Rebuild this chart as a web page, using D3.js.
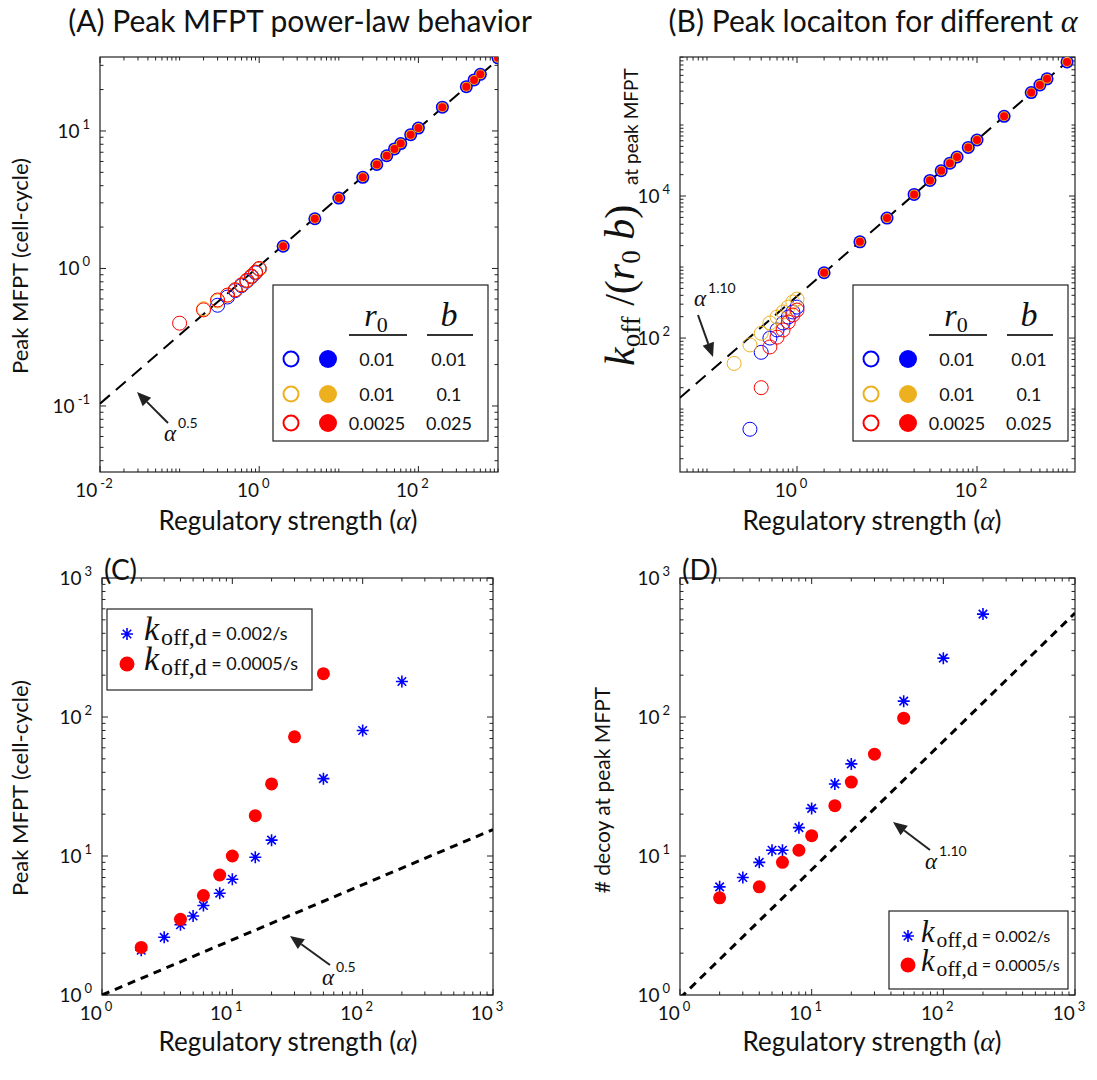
<!DOCTYPE html>
<html><head><meta charset="utf-8">
<script src="https://cdn.jsdelivr.net/npm/d3@7"></script>
<style>
body{margin:0;background:#fff;}
text{font-family:Lato,"Liberation Sans",sans-serif;fill:#111;}
</style></head>
<body><svg id="fig" width="1097" height="1080"></svg>
<script>
// ---- data ----
// panel A / B : filled markers (alpha >= 1), the three parameter sets overlap
const alphaHigh = [2,5,10,20,30,40,50,60,80,100,200,400,500,600,1000];
const mfptHigh = [1.45,2.3,3.25,4.6,5.7,6.6,7.4,8.1,9.4,10.5,14.9,21,23.5,25.8,34];
const koffHigh = [831,2263,4885,10540,16560,22750,29050,35450,48400,61500,132700,286300,365600,446300,774000];
// open markers (alpha <= 1)
const alphaLowRed = [0.1,0.2,0.3,0.4,0.5,0.6,0.7,0.8,0.9,1.0];
const mfptLowRed = [0.40,0.50,0.59,0.64,0.70,0.76,0.82,0.88,0.94,1.0];
const alphaLowBlue = [0.3,0.4,0.5,0.6,0.7,0.8,0.9,1.0];
const mfptLowBlue = [0.54,0.62,0.69,0.75,0.81,0.87,0.93,0.99];
const alphaLowOrange = [0.2,0.3,0.4,0.5,0.6,0.7,0.8,0.9,1.0];
const mfptLowOrange = [0.51,0.58,0.64,0.70,0.76,0.82,0.88,0.94,0.99];
const koffAlphaOrange = [0.2,0.3,0.4,0.5,0.6,0.7,0.8,0.9,1.0];
const koffLowOrange = [44,80,117,163,198,233,273,322,354];
const koffAlphaBlue = [0.3,0.4,0.5,0.6,0.7,0.8,0.9,1.0];
const koffLowBlue = [5.2,63,100,130,163,198,233,273];
const koffAlphaRed = [0.4,0.5,0.6,0.7,0.8,0.9,1.0];
const koffLowRed = [20,75,103,130,168,211,248];
// guide lines
const guideA = [[0.01,0.104],[1000,33]];
const guideB = [[0.05,14.4],[1000,774000]];
// panel C / D
const alphaCBlue = [2,3,4,5,6,8,10,15,20,50,100,200];
const mfptCBlue = [2.1,2.6,3.2,3.7,4.4,5.4,6.8,9.8,13,36,80,180];
const alphaCRed = [2,4,6,8,10,15,20,30,50];
const mfptCRed = [2.2,3.5,5.2,7.3,10,19.5,33,72,205];
const decoyDBlue = [6,7,9,11,11,16,22,33,46,130,265,550];
const decoyDRed = [5,6,9,11,14,23,34,54,98];
const guideC = [[1,1],[1000,15.5]];
const guideD = [[1,0.95],[1000,560]];

const blue = "#0000ff", orange = "#edb120", red = "#ff0000";
const svg = d3.select("#fig");
const serif = "Liberation Serif";

function supLabel(sel, base, exp) {
  sel.append("tspan").text(base);
  sel.append("tspan").attr("font-size", 13).attr("dy", -9).attr("dx", 3).text(exp);
}

function makePanel(o) {
  const x = d3.scaleLog().domain(o.xd).range([o.l, o.r]);
  const y = d3.scaleLog().domain(o.yd).range([o.b, o.t]);
  const g = svg.append("g");
  const id = "clip" + o.name;
  svg.append("clipPath").attr("id", id).append("rect")
    .attr("x", o.l).attr("y", o.t).attr("width", o.r - o.l).attr("height", o.b - o.t);
  // log ticks: labelled majors every `step` decades, minors at 2..9 and skipped decades
  const ticks = (dom, step) => {
    const lo = Math.floor(Math.log10(dom[0])), hi = Math.ceil(Math.log10(dom[1]));
    const maj = [], min = [];
    for (let e = lo; e <= hi; e++) {
      const v = Math.pow(10, e);
      if (v >= dom[0] * 0.999 && v <= dom[1] * 1.001) ((e % step === 0) ? maj : min).push(v);
      for (let k = 2; k < 10; k++) {
        const w = k * v;
        if (w >= dom[0] && w <= dom[1]) min.push(w);
      }
    }
    return {maj, min};
  };
  const tx = ticks(o.xd, o.xstep), ty = ticks(o.yd, o.ystep);
  const tk = g.append("g").attr("stroke", "#222").attr("stroke-width", 1);
  [[tx.maj, 6], [tx.min, 3.5]].forEach(([arr, len]) => arr.forEach(v => {
    tk.append("line").attr("x1", x(v)).attr("x2", x(v)).attr("y1", o.b).attr("y2", o.b - len);
    tk.append("line").attr("x1", x(v)).attr("x2", x(v)).attr("y1", o.t).attr("y2", o.t + len);
  }));
  [[ty.maj, 6], [ty.min, 3.5]].forEach(([arr, len]) => arr.forEach(v => {
    tk.append("line").attr("y1", y(v)).attr("y2", y(v)).attr("x1", o.l).attr("x2", o.l + len);
    tk.append("line").attr("y1", y(v)).attr("y2", y(v)).attr("x1", o.r).attr("x2", o.r - len);
  }));
  tx.maj.forEach(v => {
    const t = g.append("text").attr("x", x(v) - 6).attr("y", o.b + 25).attr("font-size", 19)
      .attr("text-anchor", "middle");
    supLabel(t, "10", Math.round(Math.log10(v)));
  });
  ty.maj.forEach(v => {
    const t = g.append("text").attr("x", o.l - 10).attr("y", y(v) + 7).attr("font-size", 19)
      .attr("text-anchor", "end");
    supLabel(t, "10", Math.round(Math.log10(v)));
  });
  g.append("rect").attr("x", o.l).attr("y", o.t).attr("width", o.r - o.l).attr("height", o.b - o.t)
    .attr("fill", "none").attr("stroke", "#222").attr("stroke-width", 1.2);
  const plot = svg.append("g").attr("clip-path", `url(#${id})`);
  return {x, y, g, plot, o};
}

function guide(p, pts, dash, w) {
  p.plot.append("path").datum(pts)
    .attr("d", d3.line().x(d => p.x(d[0])).y(d => p.y(d[1])))
    .attr("fill", "none").attr("stroke", "#000").attr("stroke-width", w).attr("stroke-dasharray", dash);
}
function circles(p, xs, ys, col, r, filled, sw) {
  p.plot.append("g").selectAll("circle").data(xs).join("circle")
    .attr("cx", d => p.x(d)).attr("cy", (d, i) => p.y(ys[i])).attr("r", r)
    .attr("fill", filled ? col : "none").attr("stroke", filled ? "none" : col).attr("stroke-width", sw || 1);
}
function starPath(cx, cy, s) {
  const d = s * 0.7071;
  return `M${cx - s},${cy}L${cx + s},${cy}M${cx},${cy - s}L${cx},${cy + s}` +
    `M${cx - d},${cy - d}L${cx + d},${cy + d}M${cx - d},${cy + d}L${cx + d},${cy - d}`;
}
function stars(p, xs, ys, col) {
  p.plot.append("g").selectAll("path").data(xs).join("path")
    .attr("d", (d, i) => starPath(p.x(d), p.y(ys[i]), 6))
    .attr("stroke", col).attr("stroke-width", 1.6).attr("fill", "none");
}
function arrow(x1, y1, x2, y2) {
  const a = Math.atan2(y2 - y1, x2 - x1), L = 14, W = 6;
  const bx = x2 - L * Math.cos(a), by = y2 - L * Math.sin(a);
  svg.append("line").attr("x1", x1).attr("y1", y1).attr("x2", bx).attr("y2", by)
    .attr("stroke", "#222").attr("stroke-width", 2);
  svg.append("path").attr("fill", "#222")
    .attr("d", `M${x2},${y2}L${bx + W * Math.sin(a)},${by - W * Math.cos(a)}L${bx - W * Math.sin(a)},${by + W * Math.cos(a)}Z`);
}
function powLabel(x, y, exp) {
  const t = svg.append("text").attr("x", x).attr("y", y);
  t.append("tspan").attr("font-family", serif).attr("font-style", "italic").attr("font-size", 23).text("α");
  t.append("tspan").attr("font-size", 14).attr("dy", -13).attr("dx", 2).text(exp);
}
function xTitle(cx, y) {
  const t = svg.append("text").attr("x", cx).attr("y", y).attr("text-anchor", "middle").attr("font-size", 26);
  t.append("tspan").text("Regulatory strength (");
  t.append("tspan").attr("font-family", serif).attr("font-style", "italic").attr("font-size", 27).text("α");
  t.append("tspan").text(")");
}
function yTitle(x, cy, s, fs) {
  svg.append("text").attr("transform", `translate(${x},${cy}) rotate(-90)`).attr("text-anchor", "middle")
    .attr("font-size", fs).text(s);
}

// ---- panel A ----
const A = makePanel({name: "A", l: 100, r: 498, t: 57, b: 472, xd: [0.01, 1000], yd: [0.0331, 34.5], xstep: 2, ystep: 1});
guide(A, guideA, "13,8", 2);
circles(A, alphaLowBlue, mfptLowBlue, blue, 7, false);
circles(A, alphaLowOrange, mfptLowOrange, orange, 7, false);
circles(A, alphaLowRed, mfptLowRed, red, 7, false);
circles(A, alphaHigh, mfptHigh, blue, 6.5, true);
circles(A, alphaHigh, mfptHigh, orange, 5, true);
circles(A, alphaHigh, mfptHigh, red, 4, true);

// ---- panel B ----
const B = makePanel({name: "B", l: 680, r: 1075, t: 57, b: 472, xd: [0.0501, 1227], yd: [1.3, 907000], xstep: 2, ystep: 2});
guide(B, guideB, "13,8", 2);
circles(B, koffAlphaBlue, koffLowBlue, blue, 7, false);
circles(B, koffAlphaOrange, koffLowOrange, orange, 7, false);
circles(B, koffAlphaRed, koffLowRed, red, 7, false);
circles(B, alphaHigh, koffHigh, blue, 6.5, true);
circles(B, alphaHigh, koffHigh, orange, 5, true);
circles(B, alphaHigh, koffHigh, red, 4, true);

// ---- panel C ----
const C = makePanel({name: "C", l: 102, r: 493, t: 578, b: 995, xd: [1, 1000], yd: [1, 1000], xstep: 1, ystep: 1});
guide(C, guideC, "8,6", 3);
stars(C, alphaCBlue, mfptCBlue, blue);
circles(C, alphaCRed, mfptCRed, red, 6.5, true);

// ---- panel D ----
const D = makePanel({name: "D", l: 680, r: 1075, t: 578, b: 995, xd: [1, 1000], yd: [1, 1000], xstep: 1, ystep: 1});
guide(D, guideD, "8,6", 3);
stars(D, alphaCBlue, decoyDBlue, blue);
circles(D, alphaCRed, decoyDRed, red, 6.5, true);

// ---- titles ----
svg.append("text").attr("x", 300).attr("y", 32).attr("text-anchor", "middle").attr("font-size", 30)
  .text("(A) Peak MFPT power-law behavior");
const tb = svg.append("text").attr("x", 873).attr("y", 32).attr("text-anchor", "middle").attr("font-size", 30);
tb.append("tspan").text("(B) Peak locaiton for different ");
tb.append("tspan").attr("font-family", serif).attr("font-style", "italic").attr("font-size", 32).text("α");
svg.append("text").attr("x", 104).attr("y", 580).attr("font-size", 28).text("(C)");
svg.append("text").attr("x", 682).attr("y", 580).attr("font-size", 28).text("(D)");

xTitle(288, 530); xTitle(872, 530); xTitle(288, 1051); xTitle(872, 1051);
yTitle(28, 266, "Peak MFPT (cell-cycle)", 22);
yTitle(28, 788, "Peak MFPT (cell-cycle)", 22);
yTitle(610, 790, "# decoy at peak MFPT", 21);
{
  const t = svg.append("text").attr("transform", "translate(634,366) rotate(-90)");
  const m = (s, fs, dy) => t.append("tspan").attr("font-family", serif).attr("font-style", "italic")
    .attr("font-size", fs).attr("dy", dy || 0).text(s);
  const r = (s, fs, dy) => t.append("tspan").attr("font-family", serif)
    .attr("font-size", fs).attr("dy", dy || 0).text(s);
  m("k", 42); r("off", 27, 6); r(" /(", 42, -6); m("r", 42); r("0", 27, 6); m(" b", 42, -6); r(")", 42);
  svg.append("text").attr("transform", "translate(638,185) rotate(-90)").attr("font-size", 19).text("at peak MFPT");
}

// annotations
arrow(168, 423, 137, 392); powLabel(164, 441, "0.5");
arrow(698, 315, 713, 357); powLabel(694, 306, "1.10");
arrow(330, 965, 290, 936); powLabel(322, 985, "0.5");
arrow(930, 850, 893, 822); powLabel(925, 869, "1.10");

// ---- legends A/B ----
function legAB(lx) {
  const ty = 285;
  svg.append("rect").attr("x", lx).attr("y", ty).attr("width", 215).attr("height", 156)
    .attr("fill", "#fff").attr("stroke", "#222").attr("stroke-width", 1.2);
  const hdr = (cx, parts) => {
    const t = svg.append("text").attr("x", cx).attr("y", ty + 41).attr("text-anchor", "middle");
    parts(t);
  };
  hdr(lx + 103, t => {
    t.append("tspan").attr("font-family", serif).attr("font-style", "italic").attr("font-size", 32).text("r");
    t.append("tspan").attr("font-family", serif).attr("font-size", 22).attr("dy", 6).text("0");
  });
  hdr(lx + 176, t => t.append("tspan").attr("font-family", serif).attr("font-style", "italic").attr("font-size", 34).text("b"));
  [[lx + 76, lx + 134], [lx + 154, lx + 200]].forEach(([a, b]) =>
    svg.append("line").attr("x1", a).attr("x2", b).attr("y1", ty + 50).attr("y2", ty + 50).attr("stroke", "#333").attr("stroke-width", 2));
  const rows = [[blue, "0.01", "0.01"], [orange, "0.01", "0.1"], [red, "0.0025", "0.025"]];
  const ry = [ty + 74, ty + 109, ty + 138];
  rows.forEach((rw, i) => {
    svg.append("circle").attr("cx", lx + 18).attr("cy", ry[i]).attr("r", 7.5).attr("fill", "none").attr("stroke", rw[0]).attr("stroke-width", 2);
    svg.append("circle").attr("cx", lx + 55).attr("cy", ry[i]).attr("r", 9).attr("fill", rw[0]);
    svg.append("text").attr("x", lx + 104).attr("y", ry[i] + 7).attr("text-anchor", "middle").attr("font-size", 18).text(rw[1]);
    svg.append("text").attr("x", lx + 176).attr("y", ry[i] + 7).attr("text-anchor", "middle").attr("font-size", 18).text(rw[2]);
  });
}
legAB(273); legAB(853);

// ---- legends C/D ----
function legCD(lx, ly, w, h, gap, mx, tx, s) {
  svg.append("rect").attr("x", lx).attr("y", ly).attr("width", w).attr("height", h)
    .attr("fill", "#fff").attr("stroke", "#222").attr("stroke-width", 1.2);
  const items = [["star", "0.002/s"], ["dot", "0.0005/s"]];
  items.forEach((it, i) => {
    const cy = ly + 25 + i * gap;
    if (it[0] === "star") svg.append("path").attr("d", starPath(lx + mx, cy, 6)).attr("stroke", blue).attr("stroke-width", 1.6);
    else svg.append("circle").attr("cx", lx + mx).attr("cy", cy).attr("r", 7.5).attr("fill", red);
    const t = svg.append("text").attr("x", lx + tx).attr("y", cy + 6);
    t.append("tspan").attr("font-family", serif).attr("font-style", "italic").attr("font-size", 34 * s).text("k");
    t.append("tspan").attr("font-family", serif).attr("font-size", 24 * s).attr("dy", 5).attr("dx", 2).text("off,d");
    t.append("tspan").attr("font-size", 18 * s).attr("dy", -5).text(" = " + it[1]);
  });
}
legCD(107, 609, 205, 81, 30, 20, 37, 1);
legCD(889, 911, 179, 78, 29, 19, 32, 0.9);
</script>
</body></html>
